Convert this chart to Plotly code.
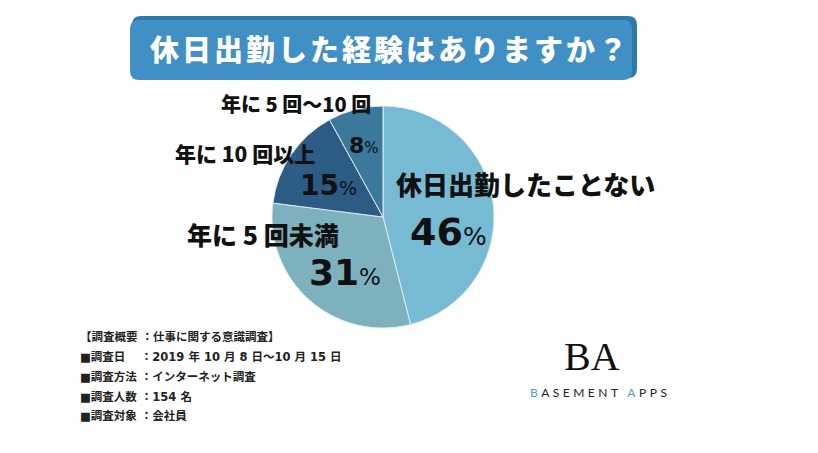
import plotly.graph_objects as go

W, H = 818, 453

# ---- data ----
categories = ["休日出勤したことない", "年に 5 回未満", "年に 10 回以上", "年に 5 回〜10 回"]
values = [46, 31, 15, 8]
slice_colors = ["#76bbd3", "#7eb1be", "#2c5b83", "#3a789c"]

title_text = "休日出勤した経験はありますか？"
footer_lines = [
    "【調査概要 ：仕事に関する意識調査】",
    "■調査日　 ：2019 年 10 月 8 日〜10 月 15 日",
    "■調査方法 ：インターネット調査",
    "■調査人数 ：154 名",
    "■調査対象 ：会社員",
]

JP = "Noto Sans CJK JP"
NUM = "DejaVu Sans"


def px(x):
    return x / W


def py(y):
    return 1 - y / H


def rrect(x0, y0, x1, y1, r):
    # rounded rectangle path in paper coordinates (pixel inputs)
    pts = []
    pts.append(f"M {px(x0 + r)} {py(y0)}")
    pts.append(f"L {px(x1 - r)} {py(y0)}")
    pts.append(f"Q {px(x1)} {py(y0)} {px(x1)} {py(y0 + r)}")
    pts.append(f"L {px(x1)} {py(y1 - r)}")
    pts.append(f"Q {px(x1)} {py(y1)} {px(x1 - r)} {py(y1)}")
    pts.append(f"L {px(x0 + r)} {py(y1)}")
    pts.append(f"Q {px(x0)} {py(y1)} {px(x0)} {py(y1 - r)}")
    pts.append(f"L {px(x0)} {py(y0 + r)}")
    pts.append(f"Q {px(x0)} {py(y0)} {px(x0 + r)} {py(y0)}")
    pts.append("Z")
    return " ".join(pts)


fig = go.Figure()
fig.add_trace(go.Pie(
    labels=categories,
    values=values,
    sort=False,
    direction="clockwise",
    rotation=0,
    marker=dict(colors=slice_colors, line=dict(color="#dcecf2", width=1)),
    textinfo="none",
    hoverinfo="label+percent",
    showlegend=False,
    domain=dict(x=[px(272), px(494)], y=[py(328), py(106)]),
))

shapes = [
    dict(type="path", xref="paper", yref="paper", path=rrect(132, 16, 637, 78, 9),
         fillcolor="#2f78aa", line=dict(width=0), layer="below"),
    dict(type="path", xref="paper", yref="paper", path=rrect(130, 20, 632, 80, 9),
         fillcolor="#4190c5", line=dict(width=0), layer="below"),
]

annotations = []
# title
annotations.append(dict(
    x=px(390), y=py(48), xref="paper", yref="paper", showarrow=False,
    text=f"<span style='letter-spacing:3px'>{title_text}</span>",
    font=dict(family=JP, size=29, color="white", weight=900), xanchor="center", yanchor="middle",
))

# slice labels: name positions and percent positions (pixels) + font sizes
label_pos = [(525, 183, 26), (263, 234, 25), (245, 153, 21), (296, 103, 20)]
pct_pos = [(448, 232, 38, 25), (345, 272, 36, 23), (328, 185, 28, 19), (364, 145, 22, 15)]
for name, v, lp, pp in zip(categories, values, label_pos, pct_pos):
    annotations.append(dict(
        x=px(lp[0]), y=py(lp[1]), xref="paper", yref="paper", showarrow=False,
        text=name, font=dict(family=JP, size=lp[2], color="#111111", weight=900),
        xanchor="center", yanchor="middle",
    ))
    annotations.append(dict(
        x=px(pp[0]), y=py(pp[1]), xref="paper", yref="paper", showarrow=False,
        text=f"<b>{v}</b><span style='font-size:{pp[3]}px;font-weight:normal'>%</span>",
        font=dict(family=NUM, size=pp[2], color="#111111"),
        xanchor="center", yanchor="middle",
    ))

# footer
footer_y = [337, 357, 377, 397, 416]
for line, yy in zip(footer_lines, footer_y):
    annotations.append(dict(
        x=px(78), y=py(yy), xref="paper", yref="paper", showarrow=False,
        text=f"<b>{line}</b>", font=dict(family="DejaVu Sans, " + JP, size=11.5, color="#222222"),
        xanchor="left", yanchor="middle",
    ))

# logo
annotations.append(dict(
    x=px(592), y=py(356), xref="paper", yref="paper", showarrow=False,
    text="BA", font=dict(family="Liberation Serif", size=40, color="#111111"),
    xanchor="center", yanchor="middle",
))
annotations.append(dict(
    x=px(600), y=py(392), xref="paper", yref="paper", showarrow=False,
    text="<span style='letter-spacing:3.5px'><span style='fill:#4a9fd8'>B</span>ASEMENT "
         "<span style='fill:#4a9fd8'>A</span>PPS</span>",
    font=dict(family="Lato", size=12, color="#222222"),
    xanchor="center", yanchor="middle",
))

fig.update_layout(
    width=W, height=H,
    margin=dict(l=0, r=0, t=0, b=0),
    paper_bgcolor="white",
    plot_bgcolor="white",
    shapes=shapes,
    annotations=annotations,
)

fig.write_html("out.html")
